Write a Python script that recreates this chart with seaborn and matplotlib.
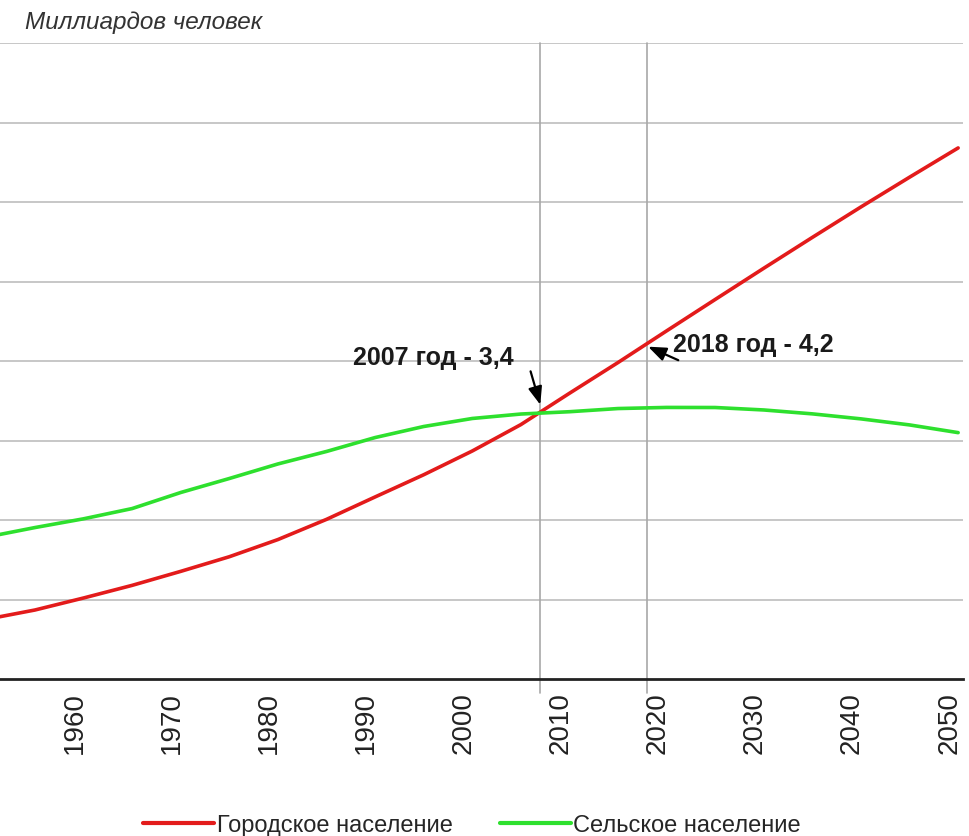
import matplotlib
matplotlib.use("Agg")
import matplotlib.pyplot as plt
import matplotlib.transforms as mtransforms
from matplotlib.lines import Line2D
import seaborn as sns
import pandas as pd

years = [1950, 1955, 1960, 1965, 1970, 1975, 1980, 1985, 1990, 1995, 2000,
         2005, 2010, 2015, 2020, 2025, 2030, 2035, 2040, 2045, 2050]
urban = [0.751, 0.868, 1.019, 1.178, 1.354, 1.538, 1.754, 2.008, 2.290, 2.569, 2.868,
         3.200, 3.594, 3.981, 4.379, 4.774, 5.167, 5.555, 5.938, 6.312, 6.680]
rural = [1.785, 1.905, 2.015, 2.144, 2.346, 2.522, 2.705, 2.862, 3.037, 3.176, 3.277,
         3.333, 3.362, 3.402, 3.416, 3.415, 3.384, 3.335, 3.272, 3.196, 3.099]
series_names = ["Городское население", "Сельское население"]
tick_years = [1960, 1970, 1980, 1990, 2000, 2010, 2020, 2030, 2040, 2050]
marker_years = [2007, 2018]
marker_values = [3.4, 4.2]
marker_labels = ["2007 год - 3,4", "2018 год - 4,2"]
title = "Миллиардов человек"

sns.set_theme(style="white")
plt.rcParams['font.family'] = ['Liberation Sans', 'DejaVu Sans']

df = pd.DataFrame({
    "year": years * 2,
    "value": urban + rural,
    "series": [series_names[0]] * len(years) + [series_names[1]] * len(years),
})

fig = plt.figure(figsize=(9.69, 8.37), dpi=100)
ax = fig.add_axes([0.0, 1 - 680 / 837, 963 / 969, (680 - 44) / 837])

palette = {series_names[0]: "#e31b1b", series_names[1]: "#2ee02e"}
sns.lineplot(data=df, x="year", y="value", hue="series", palette=palette,
             linewidth=2.6, ax=ax, legend=False, zorder=3)

ax.set_xlim(1951.4, 2050.5)
ax.set_ylim(0, 8)
for s in ["left", "right", "top"]:
    ax.spines[s].set_visible(False)
ax.spines["bottom"].set_color("#222222")
ax.spines["bottom"].set_linewidth(2)

ax.set_yticks(range(1, 9))
ax.yaxis.grid(True, color="#bdbdbd", linewidth=1.2)
ax.tick_params(axis="y", left=False, labelleft=False)
for my in marker_years:
    ax.axvline(my, ymin=-0.022, ymax=1, color="#a8a8a8", linewidth=1.2,
               zorder=1, clip_on=False)

ax.set_xticks(tick_years)
ax.set_xticklabels([str(t) for t in tick_years], rotation=90, fontsize=20,
                   color="#222222")
ax.tick_params(axis="x", bottom=False, pad=3)
offset = mtransforms.ScaledTranslation(-9 / 100, 0, fig.dpi_scale_trans)
for lbl in ax.get_xticklabels():
    lbl.set_transform(lbl.get_transform() + offset)
ax.set_xlabel("")
ax.set_ylabel("")

# annotations
arrow_kw = dict(arrowstyle="-|>,head_length=0.9,head_width=0.35", color="black",
                lw=1.6, shrinkA=0, shrinkB=0)
ax.annotate("", xy=(marker_years[0], 3.45), xytext=(2006.0, 3.87),
            arrowprops=arrow_kw, zorder=5)
ax.annotate("", xy=(marker_years[1] + 0.1, 4.18), xytext=(2021.2, 4.01),
            arrowprops=arrow_kw, zorder=5)
ax.text(1996.0, 4.05, marker_labels[0], fontsize=18, fontweight="bold",
        color="#1a1a1a", ha="center", va="center", zorder=5)
ax.text(2028.9, 4.22, marker_labels[1], fontsize=18, fontweight="bold",
        color="#1a1a1a", ha="center", va="center", zorder=5)

fig.text(25 / 969, 1 - 23 / 837, title, fontsize=17.5, style="italic",
         color="#333333", ha="left", va="center")

handles = [Line2D([0], [0], color=palette[n], lw=3) for n in series_names]
fig.legend(handles, series_names, loc="center", bbox_to_anchor=(472 / 969, 1 - 826 / 837),
           ncol=2, frameon=False, fontsize=17, handlelength=3.0, handletextpad=0.1,
           columnspacing=2.0)

fig.savefig("out.png", dpi=100)
